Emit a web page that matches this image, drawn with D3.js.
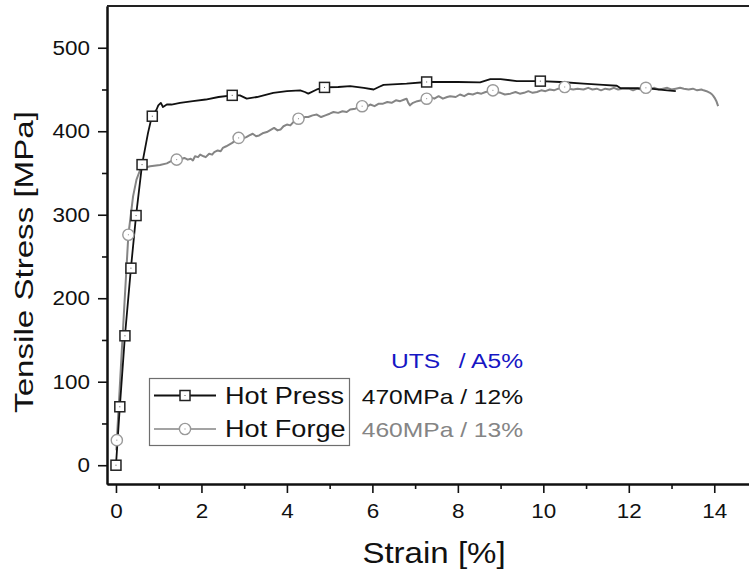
<!DOCTYPE html>
<html>
<head>
<meta charset="utf-8">
<script src="https://cdn.jsdelivr.net/npm/d3@7"></script>
<style>
  html, body { margin: 0; padding: 0; background: #fff; }
  svg { display: block; font-family: "Liberation Sans", Arial, sans-serif; }
</style>
</head>
<body>
<svg id="chart" width="749" height="576"></svg>
<script>
// Tensile test curves: stress vs. strain for two processing routes
const pressStrain = [0, 0.09, 0.21, 0.35, 0.47, 0.61, 0.75, 0.84, 0.95, 0.99, 1.05, 1.1, 1.19, 1.3, 1.5, 1.8, 2.1, 2.4, 2.72, 2.9, 3.06, 3.3, 3.68, 4.0, 4.31, 4.42, 4.5, 4.7, 4.88, 5.2, 5.48, 5.8, 6.03, 6.15, 6.26, 6.8, 7.27, 8.0, 8.52, 8.76, 9.0, 9.38, 9.93, 10.4, 10.94, 11.4, 11.72, 11.8, 12.2, 12.5, 12.9, 13.1];
const pressStress = [0, 70, 155, 236, 299, 360, 398, 418, 426, 431, 434, 429, 432, 432, 434, 436, 438, 441, 443, 443, 439, 441, 446, 448, 449, 447, 445, 450, 452.5, 453, 454, 452, 450, 453, 455.5, 457, 459, 459, 458.5, 462.5, 462.5, 460, 460, 459, 457, 455.5, 454.5, 451.7, 451.5, 451, 449, 448];

const forgeStrain = [0.01, 0.02, 0.15, 0.29, 0.4, 0.48, 0.56, 0.65, 0.8, 1.03, 1.19, 1.3, 1.42, 1.5, 1.55, 1.6, 1.68, 1.75, 1.8, 1.85, 1.92, 1.97, 2.05, 2.1, 2.18, 2.25, 2.3, 2.38, 2.45, 2.5, 2.58, 2.65, 2.72, 2.8, 2.87, 2.95, 3.05, 3.12, 3.2, 3.28, 3.35, 3.45, 3.53, 3.6, 3.7, 3.78, 3.85, 3.92, 4.0, 4.08, 4.15, 4.2, 4.27, 4.35, 4.42, 4.5, 4.6, 4.7, 4.8, 4.9, 5.0, 5.09, 5.2, 5.3, 5.4, 5.48, 5.6, 5.68, 5.76, 5.85, 5.95, 6.05, 6.15, 6.25, 6.35, 6.45, 6.55, 6.65, 6.75, 6.8, 6.84, 6.88, 6.95, 7.05, 7.15, 7.27, 7.35, 7.45, 7.55, 7.65, 7.75, 7.82, 7.95, 8.05, 8.15, 8.25, 8.35, 8.45, 8.55, 8.65, 8.75, 8.82, 8.9, 9.0, 9.1, 9.23, 9.35, 9.45, 9.55, 9.65, 9.75, 9.85, 9.95, 10.05, 10.15, 10.25, 10.35, 10.5, 10.6, 10.7, 10.8, 10.94, 11.05, 11.15, 11.25, 11.35, 11.45, 11.55, 11.65, 11.75, 11.85, 12.0, 12.1, 12.2, 12.3, 12.4, 12.5, 12.6, 12.7, 12.8, 12.9, 13.0, 13.1, 13.2, 13.29, 13.4, 13.5, 13.6, 13.7, 13.75, 13.82, 13.9, 13.95, 13.98, 14.02, 14.05, 14.09];
const forgeStress = [18, 30, 150, 276, 322, 342, 353, 356, 358, 359.5, 361.5, 364.5, 366, 364, 367, 368, 366, 367, 365, 370, 369, 372, 370, 369, 373, 372, 375, 377, 376, 380, 382, 384, 386, 389, 392, 391, 393, 395, 397, 394, 395, 398, 399, 401, 404, 401, 402, 406, 408, 407, 411, 412, 415, 414, 417, 417, 419, 420, 417, 419, 421, 423, 422, 424, 423, 426, 427, 429, 430, 429, 432, 430, 433, 433, 435, 434, 437, 436, 438, 439, 434, 431, 434, 436, 437, 439, 441, 439, 442, 439, 441, 442, 441, 444, 442, 445, 444, 446, 445, 447, 448, 449, 447, 446, 444, 445, 447, 445, 446, 448, 446, 447, 449, 448, 450, 449, 451, 453, 451, 450, 451, 450, 452, 450, 451, 449, 451, 450, 452, 450, 451, 451, 449, 451, 450, 452, 451, 452, 450, 451, 452, 450, 451, 452, 451, 450, 451, 449, 450, 449, 448, 446, 444, 442, 439, 436, 430];

// Symbol positions along each curve
const pressMarkerStrain = [0, 0.09, 0.21, 0.35, 0.47, 0.61, 0.85, 2.72, 4.88, 7.27, 9.93];
const pressMarkerStress = [0, 70, 155, 236, 299, 360, 418, 443, 452.5, 459, 460];
const forgeMarkerStrain = [0.02, 0.29, 1.42, 2.87, 4.27, 5.76, 7.27, 8.82, 10.5, 12.4];
const forgeMarkerStress = [30, 276, 366, 392, 415, 430, 439, 449, 453, 452];

const xTicks = [0, 2, 4, 6, 8, 10, 12, 14];
const xMinorTicks = [1, 3, 5, 7, 9, 11, 13, 15];
const yTicks = [0, 100, 200, 300, 400, 500];
const yMinorTicks = [50, 150, 250, 350, 450];

const seriesNames = ["Hot Press", "Hot Forge"];
const resultHeader = ["UTS", "/ A5%"];
const resultLines = ["470MPa / 12%", "460MPa / 13%"];

const BLACK = "#111", GRAY = "#858585", BLUE = "#1616c4";

const svg = d3.select("#chart");
svg.append("rect").attr("width", 749).attr("height", 576).attr("fill", "#fff");

const plotLeft = 107, plotTop = 6, plotBottom = 484, plotRight = 757;
const x = d3.scaleLinear().domain([-0.21, 15]).range([plotLeft, plotRight]);
const y = d3.scaleLinear().domain([-22.5, 550]).range([plotBottom, plotTop]);

// horizontally stretched text, anchored at (px, py)
function label(g, px, py, str, size, k, anchor, color, rotate) {
  const rot = rotate ? ` rotate(${rotate})` : "";
  return g.append("text")
    .attr("transform", `translate(${px},${py})${rot} scale(${k},1)`)
    .attr("text-anchor", anchor)
    .attr("font-size", size)
    .attr("fill", color)
    .text(str);
}

// axes
const xAxis = svg.append("g").attr("transform", `translate(0,${plotBottom})`)
  .call(d3.axisBottom(x).tickValues(xTicks).tickSize(9).tickSizeOuter(0).tickPadding(10));
svg.append("g").attr("transform", `translate(0,${plotBottom})`)
  .call(d3.axisBottom(x).tickValues(xMinorTicks).tickSize(5).tickSizeOuter(0).tickFormat(""));
const yAxis = svg.append("g").attr("transform", `translate(${plotLeft},0)`)
  .call(d3.axisLeft(y).tickValues(yTicks).tickSize(9).tickSizeOuter(0).tickPadding(8));
svg.append("g").attr("transform", `translate(${plotLeft},0)`)
  .call(d3.axisLeft(y).tickValues(yMinorTicks).tickSize(5).tickSizeOuter(0).tickFormat(""));

svg.selectAll(".domain").attr("stroke", BLACK).attr("stroke-width", 2);
svg.selectAll(".tick line").attr("stroke", BLACK).attr("stroke-width", 1.6);
xAxis.selectAll("text").attr("font-size", 21).attr("font-family", null).attr("fill", BLACK)
  .attr("transform", "scale(1.07,1)");
yAxis.selectAll("text").attr("font-size", 21).attr("font-family", null).attr("fill", BLACK)
  .attr("x", -17 / 1.07).attr("transform", "scale(1.07,1)");

// top frame line
svg.append("line").attr("x1", plotLeft).attr("x2", plotRight).attr("y1", plotTop).attr("y2", plotTop)
  .attr("stroke", "#222").attr("stroke-width", 2);

// axis titles
label(svg, 434, 563, "Strain [%]", 29, 1.14, "middle", BLACK);
label(svg, 33, 262, "Tensile Stress [MPa]", 26.5, 1.25, "middle", BLACK, -90);

// curves
const line = d3.line().x(d => x(d[0])).y(d => y(d[1]));
const pressData = d3.zip(pressStrain, pressStress);
const forgeData = d3.zip(forgeStrain, forgeStress);

svg.append("path").datum(forgeData).attr("d", line)
  .attr("fill", "none").attr("stroke", GRAY).attr("stroke-width", 2).attr("stroke-linejoin", "round");
svg.append("path").datum(pressData).attr("d", line)
  .attr("fill", "none").attr("stroke", BLACK).attr("stroke-width", 1.8).attr("stroke-linejoin", "round");

function squareMark(g, cx, cy) {
  g.append("rect").attr("x", cx - 5).attr("y", cy - 5).attr("width", 10).attr("height", 10)
    .attr("fill", "#fff").attr("stroke", "#222").attr("stroke-width", 1.5);
  g.append("rect").attr("x", cx - 0.5).attr("y", cy - 0.5).attr("width", 1).attr("height", 1).attr("fill", "#555");
}
function circleMark(g, cx, cy) {
  g.append("circle").attr("cx", cx).attr("cy", cy).attr("r", 5.6)
    .attr("fill", "#fff").attr("stroke", "#999").attr("stroke-width", 1.4);
  g.append("rect").attr("x", cx - 0.5).attr("y", cy - 0.5).attr("width", 1).attr("height", 1).attr("fill", "#888");
}

const marks = svg.append("g");
d3.zip(forgeMarkerStrain, forgeMarkerStress).forEach(d => circleMark(marks, x(d[0]), y(d[1])));
d3.zip(pressMarkerStrain, pressMarkerStress).forEach(d => squareMark(marks, x(d[0]), y(d[1])));

// legend
const lg = svg.append("g");
lg.append("rect").attr("x", 149.5).attr("y", 378.5).attr("width", 200).attr("height", 67)
  .attr("fill", "#fff").attr("stroke", "#6e6e6e").attr("stroke-width", 1.2);
const rows = [395.5, 429];
lg.append("line").attr("x1", 154).attr("x2", 216).attr("y1", rows[0]).attr("y2", rows[0])
  .attr("stroke", BLACK).attr("stroke-width", 1.8);
squareMark(lg, 185, rows[0]);
lg.append("line").attr("x1", 154).attr("x2", 216).attr("y1", rows[1]).attr("y2", rows[1])
  .attr("stroke", GRAY).attr("stroke-width", 1.6);
circleMark(lg, 185, rows[1]);
label(lg, 225, 403.5, seriesNames[0], 23, 1.18, "start", BLACK);
label(lg, 225, 437, seriesNames[1], 23, 1.18, "start", BLACK);

// strength / elongation results
label(svg, 391, 367.5, resultHeader[0], 20.5, 1.2, "start", BLUE);
label(svg, 523, 367.5, resultHeader[1], 20.5, 1.2, "end", BLUE);
label(svg, 523, 403.5, resultLines[0], 20.5, 1.2, "end", BLACK);
label(svg, 523, 436.5, resultLines[1], 20.5, 1.2, "end", GRAY);
</script>
</body>
</html>
